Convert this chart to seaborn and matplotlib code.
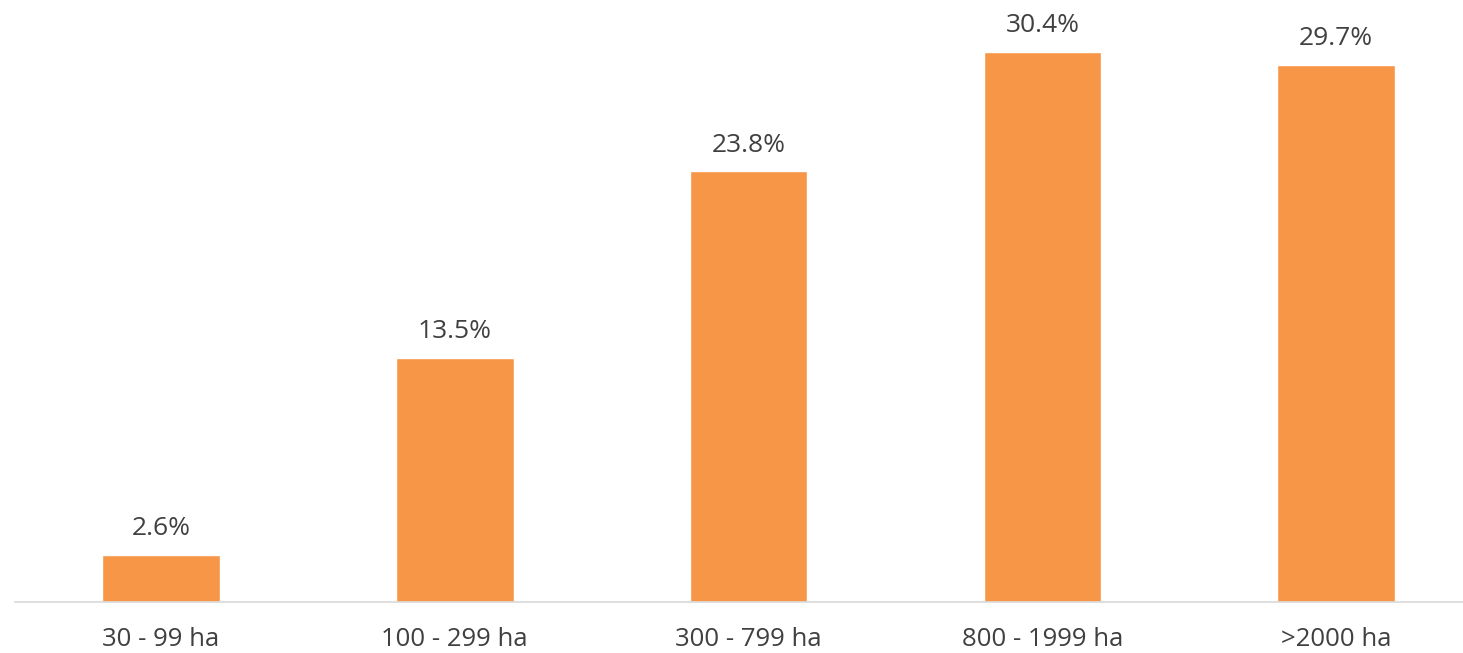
import matplotlib
matplotlib.use("Agg")
import matplotlib.pyplot as plt
import seaborn as sb
import pandas as pd

# Share by farm size class
size_classes = ["30 - 99 ha", "100 - 299 ha", "300 - 799 ha", "800 - 1999 ha", ">2000 ha"]
share_pct = [2.6, 13.5, 23.8, 30.4, 29.7]
value_labels = ["2.6%", "13.5%", "23.8%", "30.4%", "29.7%"]

df = pd.DataFrame({"size": size_classes, "share": share_pct})

sb.set_style("white")
plt.rcParams["font.family"] = ["Open Sans", "DejaVu Sans"]

fig = plt.figure(figsize=(14.63, 6.53), dpi=100)
ax = fig.add_axes([15 / 1463, 51 / 653, 1448 / 1463, 602 / 653])

sb.barplot(data=df, x="size", y="share", color="#F79646", width=0.4,
           saturation=1, ax=ax)

for i, (v, lab) in enumerate(zip(share_pct, value_labels)):
    ax.annotate(lab, (i, v), xytext=(0, 10), textcoords="offset points",
                ha="center", va="bottom", fontsize=19, color="#404040")

ax.set_xlim(-0.497, 4.432)
ax.set_ylim(0, 33.28)
ax.set_yticks([])
ax.set_xlabel("")
ax.set_ylabel("")
for s in ["top", "left", "right"]:
    ax.spines[s].set_visible(False)
ax.spines["bottom"].set_color("#D9D9D9")
ax.spines["bottom"].set_linewidth(1.2)
ax.tick_params(axis="x", length=0, pad=18, labelsize=18.5, labelcolor="#404040")

fig.savefig("out.png", dpi=100)
